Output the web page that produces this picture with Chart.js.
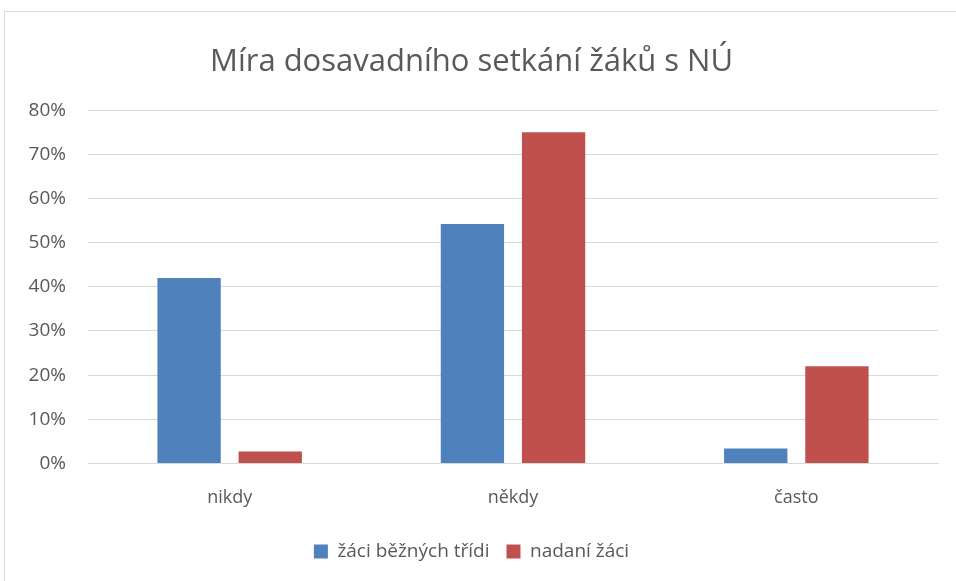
<!DOCTYPE html>
<html>
<head>
<meta charset="utf-8">
<script src="https://cdn.jsdelivr.net/npm/chart.js@4"></script>
<style>
  body { margin: 0; background: #fff; overflow: hidden; }
  #box { position: absolute; left: 4px; top: 11px; width: 960px; height: 580px; border: 1px solid #d9d9d9; }
  #wrap { position: absolute; left: 0; top: 0; width: 951px; height: 570px; }
</style>
</head>
<body>
<div id="box"><div id="wrap"><canvas id="chart"></canvas></div></div>
<script>
const categories = ["nikdy", "někdy", "často"];
const bezniZaci = [42, 54.2, 3.4];
const nadaniZaci = [2.7, 75, 22];
const seriesNames = ["žáci běžných třídi", "nadaní žáci"];

const font = "'Open Sans', 'Noto Sans', sans-serif";

new Chart(document.getElementById("chart"), {
  type: "bar",
  data: {
    labels: categories,
    datasets: [
      { label: seriesNames[0], data: bezniZaci, backgroundColor: "#4f81bd" },
      { label: seriesNames[1], data: nadaniZaci, backgroundColor: "#c0504d" }
    ]
  },
  options: {
    responsive: true,
    maintainAspectRatio: false,
    animation: false,
    categoryPercentage: 0.573,
    barPercentage: 0.78,
    layout: { padding: { left: 0, right: 18, top: 0, bottom: 11 } },
    plugins: {
      title: {
        display: true,
        text: "Míra dosavadního setkání žáků s NÚ",
        color: "#595959",
        font: { family: font, size: 31, weight: "normal" },
        padding: { top: 32, bottom: 29 }
      },
      legend: {
        position: "bottom",
        labels: {
          color: "#595959",
          font: { family: font, size: 19 },
          boxWidth: 14,
          boxHeight: 14,
          padding: 17
        }
      },
      tooltip: { enabled: false }
    },
    scales: {
      x: {
        grid: { display: false },
        border: { color: "#d9d9d9" },
        ticks: { color: "#595959", font: { family: font, size: 18 }, padding: 16 }
      },
      y: {
        min: 0,
        max: 80,
        ticks: {
          stepSize: 10,
          color: "#595959",
          font: { family: font, size: 19 },
          padding: 22,
          callback: v => v + "%"
        },
        grid: { color: "#d9d9d9", drawTicks: false },
        border: { display: false },
        afterFit: s => { s.width = 83; }
      }
    }
  }
});
</script>
</body>
</html>
